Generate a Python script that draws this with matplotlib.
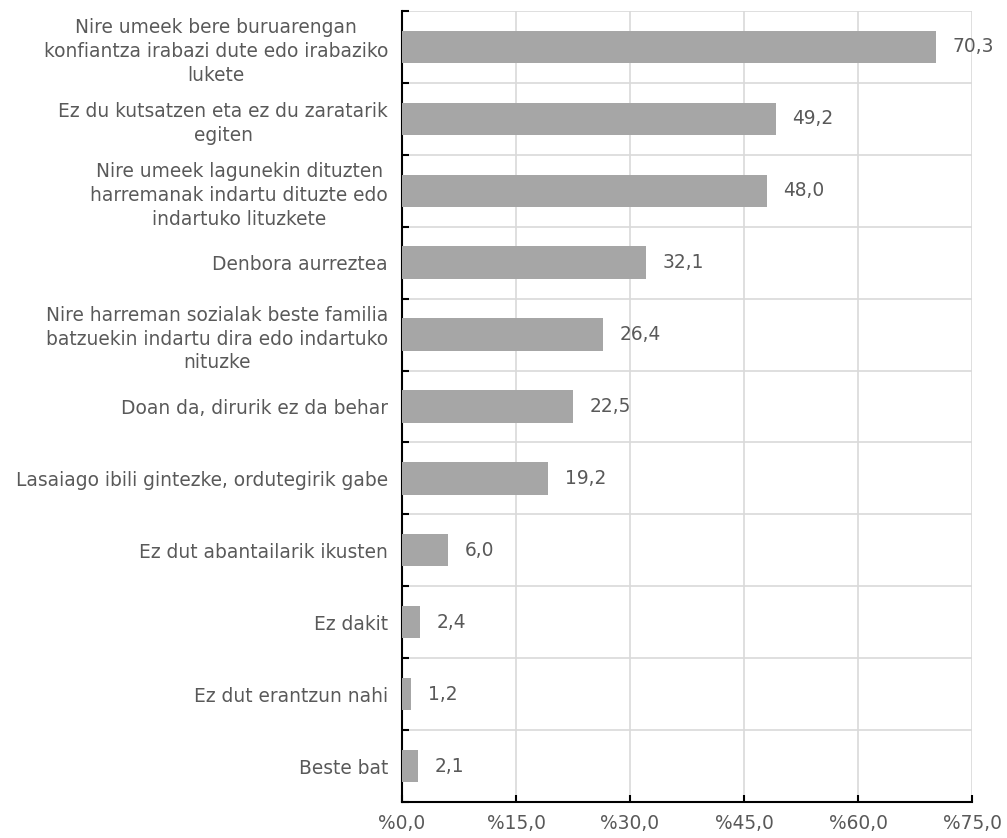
import numpy as np
import matplotlib.pyplot as plt

# datuak (goitik behera)
kategoriak = [
    "Nire umeek bere buruarengan\nkonfiantza irabazi dute edo irabaziko\nlukete",
    "Ez du kutsatzen eta ez du zaratarik\negiten",
    "Nire umeek lagunekin dituzten\nharremanak indartu dituzte edo\nindartuko lituzkete",
    "Denbora aurreztea",
    "Nire harreman sozialak beste familia\nbatzuekin indartu dira edo indartuko\nnituzke",
    "Doan da, dirurik ez da behar",
    "Lasaiago ibili gintezke, ordutegirik gabe",
    "Ez dut abantailarik ikusten",
    "Ez dakit",
    "Ez dut erantzun nahi",
    "Beste bat",
]
balioak = [70.3, 49.2, 48.0, 32.1, 26.4, 22.5, 19.2, 6.0, 2.4, 1.2, 2.1]
x_tikak = [0, 15, 30, 45, 60, 75]

testu_kolorea = "#595959"
fs = 13.4

fig = plt.figure(figsize=(10.07, 8.38), dpi=100)
ax = fig.add_axes([0.3992, 0.043, 0.5661, 0.9439])

n = len(kategoriak)
y = np.arange(n)
ax.barh(y, balioak, height=0.45, color="#A6A6A6", zorder=3)

for yi, v in zip(y, balioak):
    ax.annotate(f"{v:.1f}".replace(".", ","), xy=(v, yi), xytext=(12, 0),
                textcoords="offset points", va="center", ha="left",
                fontsize=fs, color=testu_kolorea, zorder=4)

ax.set_ylim(n - 0.5, -0.5)
ax.set_xlim(0, 75)

ax.set_yticks(y)
ax.set_yticklabels(kategoriak, fontsize=fs, color=testu_kolorea,
                   multialignment="center", linespacing=1.33)
ax.tick_params(axis="y", which="major", length=0, pad=10)

ax.set_yticks(np.arange(-0.5, n, 1), minor=True)
ax.tick_params(axis="y", which="minor", direction="in", length=5, width=1.5, color="black")

ax.set_xticks(x_tikak)
ax.set_xticklabels([f"%{t},0" for t in x_tikak], fontsize=fs, color=testu_kolorea)
ax.tick_params(axis="x", direction="in", length=5, width=1.5, color="black", pad=9)

ax.grid(axis="x", which="major", color="#D9D9D9", linewidth=1.2, zorder=0)
ax.grid(axis="y", which="minor", color="#D9D9D9", linewidth=1.2, zorder=0)

for s in ["top", "right"]:
    ax.spines[s].set_visible(False)
ax.spines["left"].set_linewidth(1.5)
ax.spines["bottom"].set_linewidth(1.5)

fig.savefig("out.png", dpi=100)
